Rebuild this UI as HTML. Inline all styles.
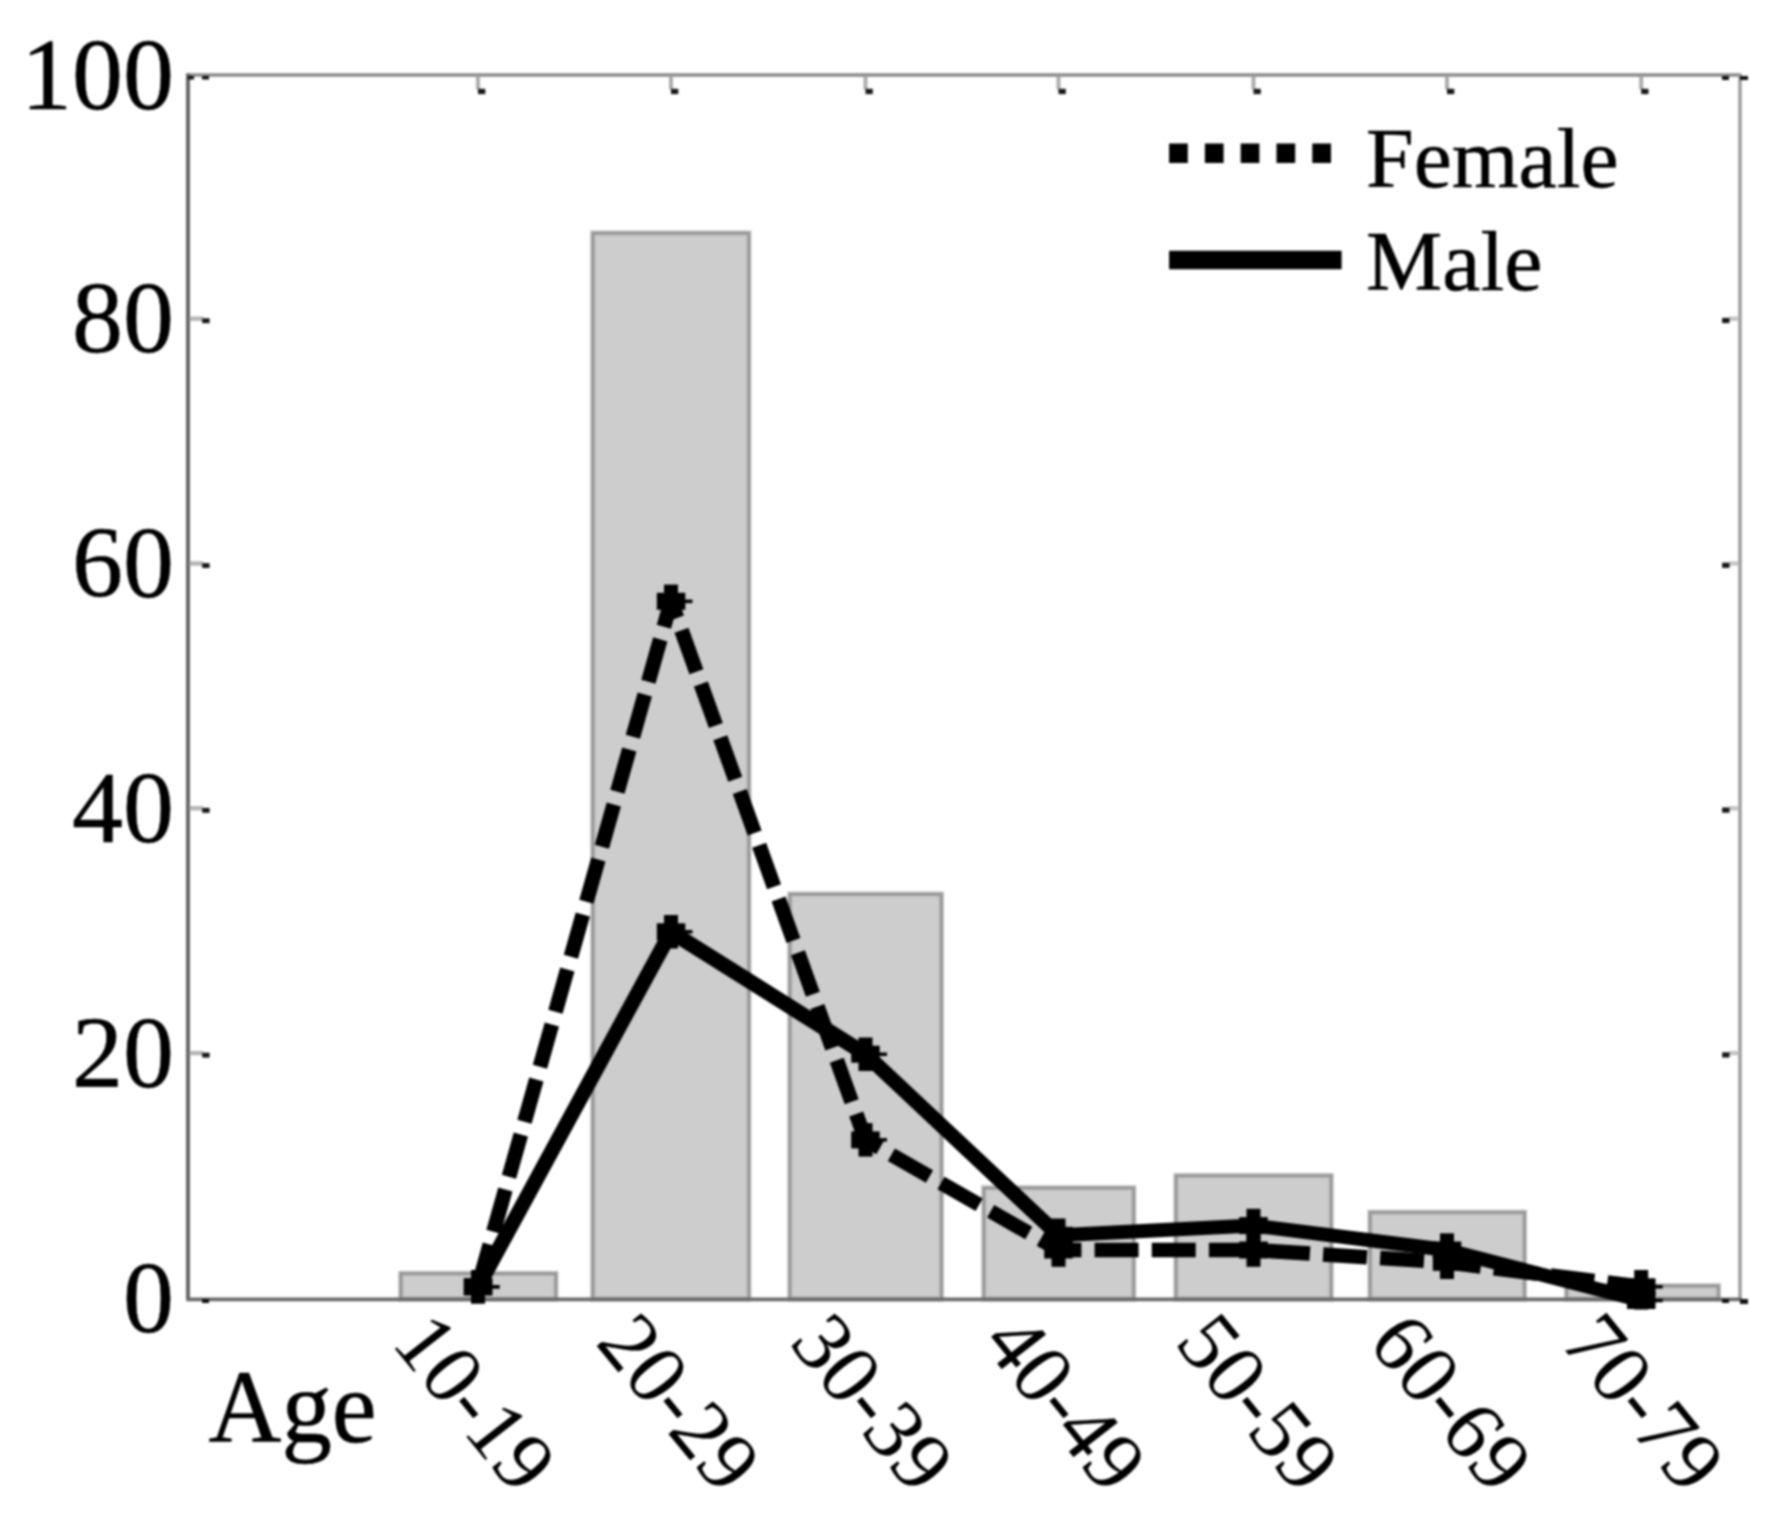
<!DOCTYPE html>
<html lang="en"><head><meta charset="utf-8"><title>Age distribution by gender</title>
<style>html,body{margin:0;padding:0;background:#fff;}body{width:1782px;height:1531px;overflow:hidden;}svg{display:block;filter:blur(0.9px);}text{font-family:"Liberation Serif","Times New Roman",Times,serif;fill:#000;stroke:#000;stroke-width:0.5px;}.xl text{stroke-width:0.12px;}</style></head><body>
<svg width="1782" height="1531" viewBox="0 0 1782 1531">
<rect width="1782" height="1531" fill="#fff"/>
<g fill="#cdcdcd" stroke="#b6b6b6" stroke-width="5.2">
<rect x="400.9" y="1273.6" width="154.9" height="25.4"/>
<rect x="592.9" y="233.2" width="155.9" height="1065.8"/>
<rect x="789.9" y="894.2" width="151.4" height="404.8"/>
<rect x="983.9" y="1187.9" width="149.7" height="111.1"/>
<rect x="1176.1" y="1175.7" width="155.0" height="123.3"/>
<rect x="1370.1" y="1212.4" width="154.3" height="86.6"/>
<rect x="1566.7" y="1285.9" width="151.6" height="13.1"/>
</g>
<g fill="none" stroke="#8d8d8d" stroke-width="1.8">
<rect x="400.9" y="1273.6" width="154.9" height="25.4"/>
<rect x="592.9" y="233.2" width="155.9" height="1065.8"/>
<rect x="789.9" y="894.2" width="151.4" height="404.8"/>
<rect x="983.9" y="1187.9" width="149.7" height="111.1"/>
<rect x="1176.1" y="1175.7" width="155.0" height="123.3"/>
<rect x="1370.1" y="1212.4" width="154.3" height="86.6"/>
<rect x="1566.7" y="1285.9" width="151.6" height="13.1"/>
</g>
<g fill="none">
<line x1="186.5" y1="75.0" x2="1741.5" y2="75.0" stroke="#8a8a8a" stroke-width="3.6"/>
<line x1="1740.0" y1="75.0" x2="1740.0" y2="1299.0" stroke="#9a9a9a" stroke-width="3.4"/>
<line x1="188.0" y1="73.5" x2="188.0" y2="1300.5" stroke="#666666" stroke-width="4"/>
<line x1="186.5" y1="1299.3" x2="1741.5" y2="1299.3" stroke="#6a6a6a" stroke-width="3.8"/>
</g>
<g fill="#161616" stroke-width="4.4">
<line x1="189.5" y1="1053.1" x2="203.0" y2="1053.1" stroke="#b4b4b4"/>
<rect x="202.2" y="1052.7" width="7.4" height="4.9"/>
<line x1="1729.0" y1="1053.1" x2="1738.5" y2="1053.1" stroke="#c4c4c4"/>
<rect x="1722.1" y="1052.3" width="7.4" height="5.2"/>
<line x1="189.5" y1="808.3" x2="203.0" y2="808.3" stroke="#b4b4b4"/>
<rect x="202.2" y="807.9" width="7.4" height="4.9"/>
<line x1="1729.0" y1="808.3" x2="1738.5" y2="808.3" stroke="#c4c4c4"/>
<rect x="1722.1" y="807.5" width="7.4" height="5.2"/>
<line x1="189.5" y1="563.5" x2="203.0" y2="563.5" stroke="#b4b4b4"/>
<rect x="202.2" y="563.1" width="7.4" height="4.9"/>
<line x1="1729.0" y1="563.5" x2="1738.5" y2="563.5" stroke="#c4c4c4"/>
<rect x="1722.1" y="562.7" width="7.4" height="5.2"/>
<line x1="189.5" y1="318.7" x2="203.0" y2="318.7" stroke="#b4b4b4"/>
<rect x="202.2" y="318.3" width="7.4" height="4.9"/>
<line x1="1729.0" y1="318.7" x2="1738.5" y2="318.7" stroke="#c4c4c4"/>
<rect x="1722.1" y="317.9" width="7.4" height="5.2"/>
<line x1="478.0" y1="76.5" x2="478.0" y2="89.5" stroke="#acacac" stroke-width="4"/>
<rect x="478.0" y="88.8" width="7.3" height="5.3"/>
<line x1="671.0" y1="76.5" x2="671.0" y2="89.5" stroke="#acacac" stroke-width="4"/>
<rect x="671.0" y="88.8" width="7.3" height="5.3"/>
<line x1="865.5" y1="76.5" x2="865.5" y2="89.5" stroke="#acacac" stroke-width="4"/>
<rect x="865.5" y="88.8" width="7.3" height="5.3"/>
<line x1="1058.5" y1="76.5" x2="1058.5" y2="89.5" stroke="#acacac" stroke-width="4"/>
<rect x="1058.5" y="88.8" width="7.3" height="5.3"/>
<line x1="1253.5" y1="76.5" x2="1253.5" y2="89.5" stroke="#acacac" stroke-width="4"/>
<rect x="1253.5" y="88.8" width="7.3" height="5.3"/>
<line x1="1447.0" y1="76.5" x2="1447.0" y2="89.5" stroke="#acacac" stroke-width="4"/>
<rect x="1447.0" y="88.8" width="7.3" height="5.3"/>
<line x1="1641.2" y1="76.5" x2="1641.2" y2="89.5" stroke="#acacac" stroke-width="4"/>
<rect x="1641.2" y="88.8" width="7.3" height="5.3"/>
<rect x="188.0" y="76.0" width="6.0" height="3.5" stroke="none" fill="#111"/>
<rect x="202.0" y="76.0" width="7.0" height="3.5" stroke="none" fill="#111"/>
<rect x="1722.0" y="76.0" width="7.0" height="4.0" stroke="none" fill="#111"/>
<rect x="1740.0" y="76.0" width="8.0" height="4.0" stroke="none" fill="#111"/>
<rect x="202.0" y="1299.0" width="7.0" height="4.0" stroke="none" fill="#111"/>
<rect x="1722.0" y="1299.0" width="7.0" height="4.0" stroke="none" fill="#111"/>
<rect x="1740.0" y="1299.0" width="8.0" height="5.0" stroke="none" fill="#111"/>
</g>
<g stroke="#000" fill="none">
<line x1="478.0" y1="1286.8" x2="671.0" y2="601.3" stroke-width="14.8" stroke-dasharray="43.95 13.2" stroke-dashoffset="0.00"/>
<line x1="671.0" y1="601.3" x2="865.5" y2="1139.9" stroke-width="14.8" stroke-dasharray="43.95 13.2" stroke-dashoffset="26.29"/>
<line x1="865.5" y1="1139.9" x2="1058.5" y2="1250.0" stroke-width="14.4" stroke-dasharray="43.95 13.2" stroke-dashoffset="27.40"/>
<line x1="1058.5" y1="1250.0" x2="1253.5" y2="1250.0" stroke-width="14.6" stroke-dasharray="43.95 13.2" stroke-dashoffset="21.02"/>
<line x1="1253.5" y1="1250.0" x2="1447.0" y2="1262.3" stroke-width="14.6" stroke-dasharray="43.95 13.2" stroke-dashoffset="44.57"/>
<line x1="1447.0" y1="1262.3" x2="1641.2" y2="1286.8" stroke-width="14.6" stroke-dasharray="43.95 13.2" stroke-dashoffset="9.86"/>
<line x1="478.0" y1="1286.8" x2="671.0" y2="931.8" stroke-width="15"/>
<line x1="671.0" y1="931.8" x2="865.5" y2="1054.2" stroke-width="15"/>
<line x1="865.5" y1="1054.2" x2="1058.5" y2="1235.3" stroke-width="14.8"/>
<line x1="1058.5" y1="1235.3" x2="1253.5" y2="1225.6" stroke-width="14"/>
<line x1="1253.5" y1="1225.6" x2="1447.0" y2="1250.0" stroke-width="14"/>
<line x1="1447.0" y1="1250.0" x2="1641.2" y2="1300.5" stroke-width="14"/>
</g>
<g fill="#000">
<rect x="471.0" y="1270.0" width="14" height="33.5"/>
<rect x="463.8" y="1278.3" width="28.5" height="17"/>
<rect x="478.0" y="1285.0" width="21.5" height="3.5"/>
<rect x="664.0" y="584.6" width="14" height="33.5"/>
<rect x="656.8" y="592.8" width="28.5" height="17"/>
<rect x="671.0" y="599.6" width="21.5" height="3.5"/>
<rect x="858.5" y="1123.1" width="14" height="33.5"/>
<rect x="851.2" y="1131.4" width="28.5" height="17"/>
<rect x="865.5" y="1138.1" width="21.5" height="3.5"/>
<rect x="1051.5" y="1233.3" width="14" height="33.5"/>
<rect x="1044.2" y="1241.5" width="28.5" height="17"/>
<rect x="1058.5" y="1248.3" width="21.5" height="3.5"/>
<rect x="1246.5" y="1233.3" width="14" height="33.5"/>
<rect x="1239.2" y="1241.5" width="28.5" height="17"/>
<rect x="1253.5" y="1248.3" width="21.5" height="3.5"/>
<rect x="1440.0" y="1245.5" width="14" height="33.5"/>
<rect x="1432.8" y="1253.8" width="28.5" height="17"/>
<rect x="1447.0" y="1260.5" width="21.5" height="3.5"/>
<rect x="1634.2" y="1270.0" width="14" height="33.5"/>
<rect x="1627.0" y="1278.3" width="28.5" height="17"/>
<rect x="1641.2" y="1285.0" width="21.5" height="3.5"/>
<rect x="471.0" y="1270.0" width="14" height="33.5"/>
<rect x="463.8" y="1278.3" width="28.5" height="17"/>
<rect x="478.0" y="1285.0" width="21.5" height="3.5"/>
<rect x="664.0" y="915.0" width="14" height="33.5"/>
<rect x="656.8" y="923.3" width="28.5" height="17"/>
<rect x="671.0" y="930.0" width="21.5" height="3.5"/>
<rect x="858.5" y="1037.5" width="14" height="33.5"/>
<rect x="851.2" y="1045.7" width="28.5" height="17"/>
<rect x="865.5" y="1052.5" width="21.5" height="3.5"/>
<rect x="1051.5" y="1218.5" width="14" height="33.5"/>
<rect x="1044.2" y="1226.8" width="28.5" height="17"/>
<rect x="1058.5" y="1233.5" width="21.5" height="3.5"/>
<rect x="1246.5" y="1208.8" width="14" height="33.5"/>
<rect x="1239.2" y="1217.1" width="28.5" height="17"/>
<rect x="1253.5" y="1223.8" width="21.5" height="3.5"/>
<rect x="1440.0" y="1233.3" width="14" height="33.5"/>
<rect x="1432.8" y="1241.5" width="28.5" height="17"/>
<rect x="1447.0" y="1248.3" width="21.5" height="3.5"/>
<rect x="1634.2" y="1283.8" width="14" height="25.75"/>
<rect x="1627.0" y="1292.0" width="28.5" height="17"/>
<rect x="1641.2" y="1298.8" width="21.5" height="3.5"/>
</g>
<g font-size="102" text-anchor="end">
<text transform="translate(174 1332.3) scale(1.0 1)">0</text>
<text transform="translate(174 1086.7) scale(1.0 1)">20</text>
<text transform="translate(174 841.9) scale(1.0 1)">40</text>
<text transform="translate(174 597.1) scale(1.0 1)">60</text>
<text transform="translate(174 352.3) scale(1.0 1)">80</text>
<text transform="translate(174 109.2) scale(1.0 1)">100</text>
</g>
<g class="xl" font-size="80">
<text transform="matrix(0.6713 0.8238 -0.8375 0.6588 390.3 1343.1)">10-19</text>
<text transform="matrix(0.6713 0.8238 -0.8375 0.6588 594.6 1343.1)">20-29</text>
<text transform="matrix(0.6713 0.8238 -0.8375 0.6588 788.0 1343.1)">30-39</text>
<text transform="matrix(0.6713 0.8238 -0.8375 0.6588 980.6 1343.1)">40-49</text>
<text transform="matrix(0.6713 0.8238 -0.8375 0.6588 1173.4 1343.1)">50-59</text>
<text transform="matrix(0.6713 0.8238 -0.8375 0.6588 1366.4 1343.1)">60-69</text>
<text transform="matrix(0.6713 0.8238 -0.8375 0.6588 1558.9 1343.1)">70-79</text>
</g>
<text transform="translate(208.5 1442) scale(0.98 1)" font-size="103">Age</text>
<line x1="1169.1" y1="153.3" x2="1331" y2="153.3" stroke="#000" stroke-width="19.6" stroke-dasharray="18.7 17.1"/>
<line x1="1169.1" y1="260" x2="1341.6" y2="260" stroke="#000" stroke-width="18.5"/>
<g font-size="84"><text transform="translate(1366 186.8) scale(1.022 1)">Female</text><text transform="translate(1366 290) scale(1.022 1)">Male</text></g>
</svg></body></html>
